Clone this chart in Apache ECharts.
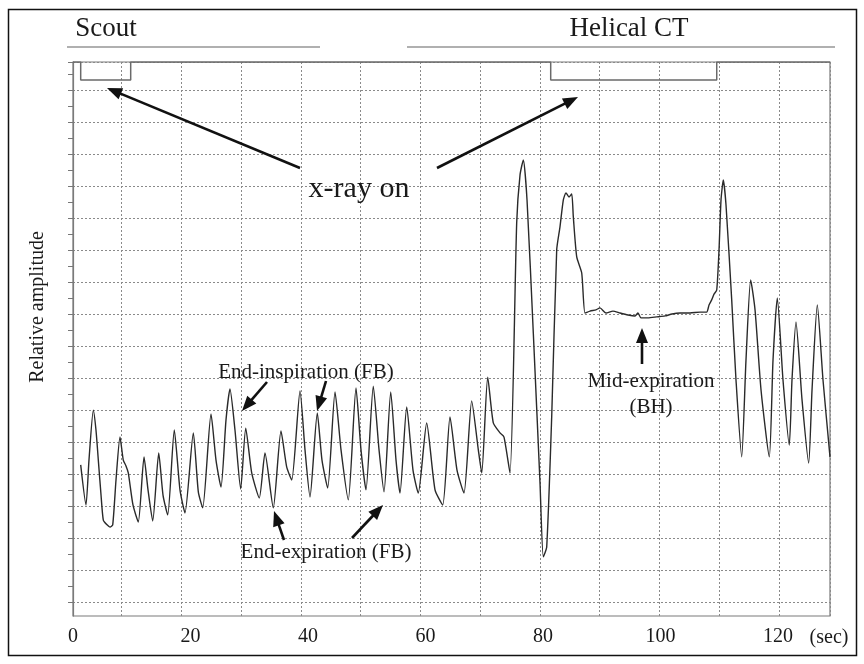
<!DOCTYPE html>
<html>
<head>
<meta charset="utf-8">
<script src="https://cdn.jsdelivr.net/npm/echarts@6.0.0/dist/echarts.min.js"></script>
<style>
html,body{margin:0;padding:0;background:#fff;}
#chart{width:864px;height:664px;}
</style>
</head>
<body>
<div id="chart"></div>
<script>
// ---- data (time in seconds, amplitude in relative units) ----
const timeSec = [1.31,2.21,2.72,3.46,3.91,4.31,4.77,5.16,5.79,6.30,6.76,7.32,8.00,8.56,9.02,9.41,10.21,11.11,12.09,12.77,13.57,14.59,15.32,16.12,17.24,18.21,19.06,20.48,21.33,22.08,23.49,24.34,25.19,26.04,26.72,27.57,28.54,29.40,30.42,31.71,32.68,34.09,35.40,36.37,37.23,38.64,39.49,40.34,41.58,42.38,43.35,44.60,45.62,46.86,48.17,49.02,49.87,51.11,52.09,52.94,54.08,54.98,55.66,56.80,57.87,58.77,60.20,61.62,62.93,64.17,65.36,66.55,67.86,68.99,69.57,70.59,71.54,72.68,73.36,74.38,75.52,76.09,76.65,77.28,78.35,79.49,80.05,80.63,81.48,82.33,82.89,83.46,83.91,84.43,84.89,85.16,85.74,86.59,87.15,88.00,89.02,89.70,90.72,91.91,93.11,94.47,95.66,96.17,96.68,97.87,99.35,100.77,101.96,103.32,105.02,106.72,107.86,108.26,108.71,109.11,109.57,109.96,110.30,110.69,111.15,112.12,112.85,113.82,114.55,115.35,116.09,117.11,118.52,119.15,119.88,120.85,121.92,122.38,123.06,124.09,125.22,125.79,126.69,127.66,128.85];
const amplitude = [4.30,3.05,4.45,6.01,5.39,4.45,3.36,2.58,2.43,2.36,2.43,3.83,5.17,4.45,4.27,4.05,3.05,2.52,4.55,3.52,2.55,4.67,3.36,2.74,5.39,3.52,2.80,5.30,3.46,2.96,5.89,4.45,3.61,5.70,6.67,5.39,3.55,5.45,4.05,3.27,4.67,2.96,5.36,4.24,3.83,6.61,4.77,3.30,5.92,4.45,3.58,6.58,4.77,3.21,6.70,4.77,3.52,6.76,4.77,3.46,6.58,4.45,3.42,6.11,4.14,3.42,5.61,3.52,3.05,5.80,4.14,3.42,6.30,4.77,4.05,7.04,5.61,5.30,5.17,4.05,11.85,13.35,13.82,12.57,8.42,3.74,1.43,1.74,5.80,11.01,11.73,12.57,12.79,12.66,12.76,12.04,10.79,10.29,9.04,9.10,9.14,9.20,9.04,9.10,9.04,8.98,8.95,9.04,8.89,8.89,8.92,8.95,9.01,9.04,9.04,9.07,9.07,9.29,9.45,9.63,9.76,11.01,12.57,13.19,12.41,9.45,6.95,4.55,7.57,10.07,9.14,6.64,4.55,7.57,9.51,6.95,4.92,6.95,8.76,6.33,4.36,6.64,9.29,6.95,4.55];
// x-ray on intervals [start, end] in seconds
const xrayOn = [[1.31, 9.82], [81.31, 109.57]];
const xrayLevelOff = 16.875, xrayLevelOn = 16.31;
const xTickValues = [0, 20, 40, 60, 80, 100, 120];
const xMin = 0, xMax = 128.85;
const yMin = -0.415, yMax = 16.875;

// ---- build series data ----
const trace = [];
for (let i = 0; i < Math.min(timeSec.length, amplitude.length); i++) trace.push([timeSec[i], amplitude[i]]);
const xray = [[xMin, xrayLevelOff]];
xrayOn.forEach(([a, b]) => {
  xray.push([a, xrayLevelOff], [a, xrayLevelOn], [b, xrayLevelOn], [b, xrayLevelOff]);
});
xray.push([xMax, xrayLevelOff]);

const SERIF = '"Liberation Serif","DejaVu Serif",serif';
const gridDash = {color: '#8a8a8a', width: 1, type: [2, 2]};

function arrow(x1, y1, x2, y2) {
  const hl = 15, hw = 6;
  const dx = x2 - x1, dy = y2 - y1, L = Math.hypot(dx, dy);
  const ux = dx / L, uy = dy / L, px = -uy, py = ux;
  const bx = x2 - ux * hl, by = y2 - uy * hl;
  return [
    {type: 'line', silent: true, z: 100, shape: {x1, y1, x2: bx + ux * 3, y2: by + uy * 3}, style: {stroke: '#111', lineWidth: 2.6}},
    {type: 'polygon', silent: true, z: 100, shape: {points: [[x2, y2], [bx + px * hw, by + py * hw], [bx - px * hw, by - py * hw]]}, style: {fill: '#111'}}
  ];
}
function txt(text, x, y, size, extra) {
  return Object.assign({type: 'text', silent: true, z: 100, x, y,
    style: {text, fill: '#1a1a1a', font: size + 'px ' + SERIF, align: 'center', verticalAlign: 'middle'}}, extra || {});
}

const graphics = [
  {type: 'rect', silent: true, z: -1, shape: {x: 8.5, y: 9.5, width: 848, height: 646}, style: {fill: 'none', stroke: '#111', lineWidth: 1.5}},
  {type: 'line', silent: true, shape: {x1: 67, y1: 47, x2: 320, y2: 47}, style: {stroke: '#b0b0b0', lineWidth: 2}},
  {type: 'line', silent: true, shape: {x1: 407, y1: 47, x2: 835, y2: 47}, style: {stroke: '#b0b0b0', lineWidth: 2}},
  txt('Scout', 106, 29, 27),
  txt('Helical CT', 629, 29, 27),
  txt('x-ray on', 359, 189, 30),
  txt('End-inspiration (FB)', 306, 372, 21),
  txt('End-expiration (FB)', 326, 552, 21),
  txt('Mid-expiration', 651, 381, 21),
  txt('(BH)', 651, 407, 21),
  txt('(sec)', 829, 638, 20),
  txt('Relative amplitude', 38, 307, 20, {rotation: Math.PI / 2})
].concat(
  arrow(300, 168, 107, 88),
  arrow(437, 168, 578, 97),
  arrow(267, 382, 242, 411),
  arrow(326, 381, 317, 411),
  arrow(284, 540, 274, 511),
  arrow(352, 538, 383, 505),
  arrow(642, 364, 642, 328)
);

const chart = echarts.init(document.getElementById('chart'), null, {renderer: 'canvas', width: 864, height: 664});
chart.setOption({
  animation: false,
  backgroundColor: '#fff',
  grid: [
    {left: 73, right: 34, top: 62, bottom: 48, show: true, borderColor: '#7a7a7a', borderWidth: 1.2, backgroundColor: 'transparent'},
    {left: 121.7, right: 34, top: 62, bottom: 48},
    {left: 73, right: 34, top: 62, bottom: 61.3}
  ],
  xAxis: [
    {type: 'value', gridIndex: 0, min: xMin, max: xMax, interval: 20,
      axisLine: {show: false}, axisTick: {show: false}, splitLine: {show: false},
      axisLabel: {show: true, margin: 11, color: '#1a1a1a', fontSize: 20, fontFamily: SERIF,
        formatter: v => xTickValues.indexOf(v) >= 0 ? String(v) : ''}},
    {type: 'value', gridIndex: 1, min: 0, max: 11.854, interval: 1,
      axisLine: {show: false}, axisTick: {show: false}, axisLabel: {show: false},
      splitLine: {show: true, lineStyle: gridDash}},
    {type: 'value', gridIndex: 2, min: 0, max: 10, show: false}
  ],
  yAxis: [
    {type: 'value', gridIndex: 0, min: yMin, max: yMax, offset: 3,
      axisLine: {show: true, lineStyle: {color: '#7a7a7a', width: 1.2}}, axisTick: {show: false},
      axisLabel: {show: false}, splitLine: {show: false}},
    {type: 'value', gridIndex: 1, min: 0, max: 10, show: false},
    {type: 'value', gridIndex: 2, min: 0, max: 16.875, interval: 1, offset: 3,
      axisLine: {show: false}, axisLabel: {show: false},
      axisTick: {show: true, length: 5, lineStyle: {color: '#777'}},
      minorTick: {show: true, splitNumber: 2, length: 5, lineStyle: {color: '#777'}},
      splitLine: {show: true, lineStyle: gridDash}}
  ],
  series: [
    {name: 'Respiratory signal', type: 'line', xAxisIndex: 0, yAxisIndex: 0, data: trace,
      showSymbol: false, smooth: 0.2, lineStyle: {color: '#2a2a2a', width: 1.4}, z: 10},
    {name: 'X-ray on', type: 'line', xAxisIndex: 0, yAxisIndex: 0, data: xray,
      showSymbol: false, lineStyle: {color: '#6a6a6a', width: 1.5}, z: 9}
  ],
  graphic: graphics
});
</script>
</body>
</html>
